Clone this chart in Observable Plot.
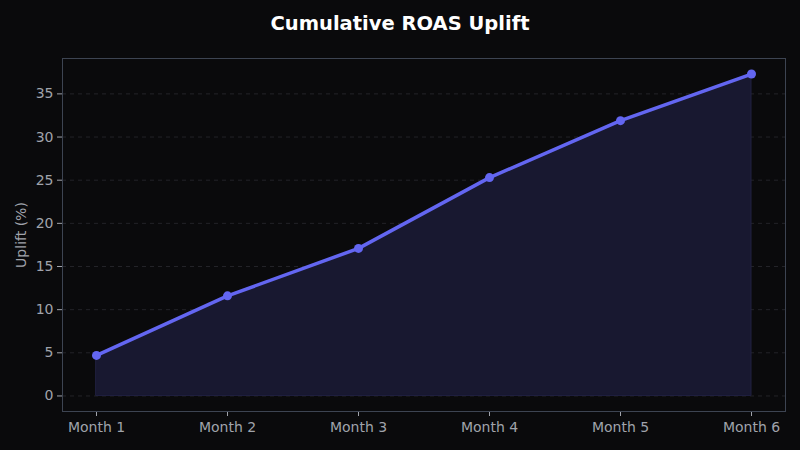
<!DOCTYPE html>
<html><head><meta charset="utf-8">
<script src="https://cdn.jsdelivr.net/npm/d3@7"></script>
<script src="https://cdn.jsdelivr.net/npm/@observablehq/plot@0.6"></script>
<style>
html,body{margin:0;padding:0;background:#0a0a0c;}
#title{height:40px;text-align:center;color:#ffffff;font:bold 19.5px "DejaVu Sans";line-height:48px;}
</style></head>
<body>
<div id="title">Cumulative ROAS Uplift</div>
<div id="chart"></div>
<script>
const months = ["Month 1","Month 2","Month 3","Month 4","Month 5","Month 6"];
const uplift = [4.7, 11.6, 17.1, 25.3, 31.9, 37.3];
const yTicks = [0,5,10,15,20,25,30,35];
const data = months.map((m,i)=>({month:m, value:uplift[i]}));

const chart = Plot.plot({
  width: 800, height: 410,
  marginTop: 18, marginBottom: 39, marginLeft: 62, marginRight: 15,
  style: {background: "#0a0a0c", color: "#a0a3ab", fontFamily: "DejaVu Sans", fontSize: "14px"},
  x: {type: "point", domain: months, padding: 0.25, label: null},
  y: {domain: [-1.8, 39.1], label: null},
  marks: [
    Plot.gridY(yTicks, {stroke: "#2a2a30", strokeOpacity: 1, strokeDasharray: "4,4", strokeWidth: 0.8}),
    Plot.areaY(data, {x: "month", y: "value", fill: "#181830", stroke: "#202040", strokeWidth: 1, curve: "linear"}),
    Plot.line(data, {x: "month", y: "value", stroke: "#6366f1", strokeWidth: 3.5}),
    Plot.dot(data, {x: "month", y: "value", fill: "#6366f1", r: 4.5}),
    Plot.axisX({tickSize: 5, tickPadding: 6, stroke: "#a0a3ab", fill: "#a0a3ab", fontSize: 14, label: null}),
    Plot.axisY(yTicks, {tickSize: 5, tickPadding: 4, stroke: "#a0a3ab", fill: "#a0a3ab", fontSize: 14, label: null}),
    Plot.frame({stroke: "#3d4452", strokeWidth: 1}),
    Plot.text(["Uplift (%)"], {frameAnchor: "left", textAnchor: "middle", dx: -41, rotate: -90, fill: "#a0a3ab", fontSize: 14})
  ]
});
document.getElementById("chart").appendChild(chart);
</script>
</body></html>
